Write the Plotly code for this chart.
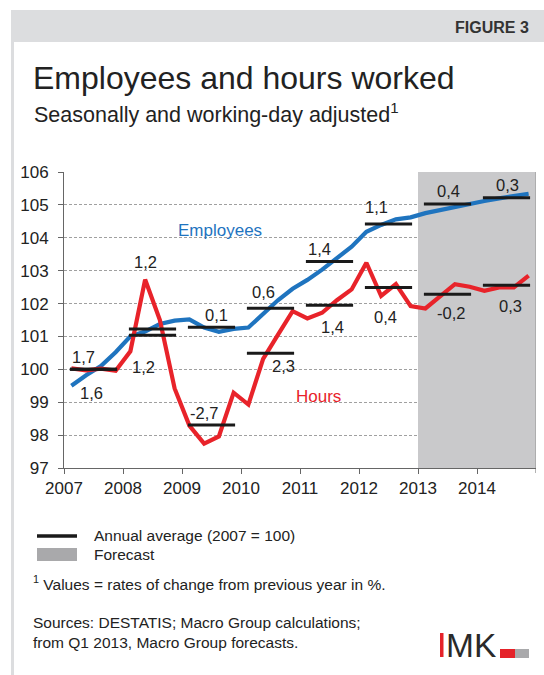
import plotly.graph_objects as go

# ---- data -------------------------------------------------------------
years = list(range(2007, 2015))

# quarterly index levels (2007 = 100), Q1 2007 .. Q4 2014
employees = [
    99.50, 99.82, 100.10, 100.52,
    101.00, 101.15, 101.38, 101.48,
    101.52, 101.27, 101.14, 101.23,
    101.27, 101.67, 102.10, 102.45,
    102.72, 103.03, 103.37, 103.73,
    104.18, 104.39, 104.56, 104.62,
    104.75, 104.85, 104.95, 105.05,
    105.12, 105.20, 105.26, 105.34,
]
hours = [
    100.03, 99.97, 100.02, 99.96,
    100.55, 102.73, 101.50, 99.42,
    98.29, 97.74, 97.96, 99.29,
    98.93, 100.32, 101.05, 101.77,
    101.55, 101.72, 102.10, 102.43,
    103.24, 102.23, 102.59, 101.92,
    101.85, 102.23, 102.59, 102.51,
    102.39, 102.49, 102.49, 102.85,
]

# annual averages (2007 = 100)
employees_avg = [100.00, 101.23, 101.28, 101.86, 103.28, 104.42, 105.03, 105.22]
hours_avg = [100.00, 101.04, 98.31, 100.49, 101.95, 102.49, 102.28, 102.56]

# rates of change from previous year in %
employees_growth = ["1,7", "1,2", "0,1", "0,6", "1,4", "1,1", "0,4", "0,3"]
hours_growth = ["1,6", "1,2", "-2,7", "2,3", "1,4", "0,4", "-0,2", "0,3"]

y_ticks = list(range(97, 107))
x_ticks = list(range(2007, 2015))
x_tick_text = [str(v) for v in x_ticks]
x_end = 2015
forecast_start, forecast_end = 2013, 2015

# ---- styling ----------------------------------------------------------
FONT = "Liberation Sans, Arial, Helvetica, sans-serif"
TEXT = "#222222"
BLUE = "#1f74bf"
RED = "#e8232a"
BLACK = "#1a1a1a"
AXIS = "#666666"

W, H = 544, 675
PL, PR, PT, PB = 64, 536, 172, 468


def px_x(px):
    return (px - PL) / (PR - PL)


def px_y(py):
    return (PB - py) / (PB - PT)


quarter_x = [y + (q - 0.5) / 4 for y in years for q in range(1, 5)]

fig = go.Figure()

fig.add_trace(go.Scatter(x=quarter_x, y=employees, mode="lines",
                         line=dict(color=BLUE, width=4.2), hoverinfo="skip"))
fig.add_trace(go.Scatter(x=quarter_x, y=hours, mode="lines",
                         line=dict(color=RED, width=4.2), hoverinfo="skip"))

# annual average bars
bx, by = [], []
for yr, e, h in zip(years, employees_avg, hours_avg):
    bx += [yr + 0.1, yr + 0.9, None, yr + 0.1, yr + 0.9, None]
    by += [e, e, None, h, h, None]
fig.add_trace(go.Scatter(x=bx, y=by, mode="lines",
                         line=dict(color=BLACK, width=3), hoverinfo="skip"))

# growth labels: pixel offsets from the centre of each annual bar
emp_dx = [-10, -7.5, 5, -7, -10, -12.5, 1, 1]
emp_dy = [12.6, 67, 12.2, 16.4, 12.1, 17.2, 13.1, 12.3]
hrs_dx = [-2, -9, -8, 13, 3, -3.5, 3, 3.5]
hrs_dy = [-23.4, -31.6, 11.7, -12.8, -21.6, -29.9, -18.7, -21.2]

annotations = []
for i, yr in enumerate(years):
    annotations.append(dict(x=yr + 0.5, y=employees_avg[i], text=employees_growth[i],
                            xshift=emp_dx[i], yshift=emp_dy[i], showarrow=False,
                            font=dict(family=FONT, size=16.5, color=TEXT)))
    annotations.append(dict(x=yr + 0.5, y=hours_avg[i], text=hours_growth[i],
                            xshift=hrs_dx[i], yshift=hrs_dy[i], showarrow=False,
                            font=dict(family=FONT, size=16.5, color=TEXT)))

# series names
annotations.append(dict(x=2009.644, y=104.23, text="Employees", showarrow=False,
                        font=dict(family=FONT, size=17, color=BLUE)))
annotations.append(dict(x=2011.31, y=99.17, text="Hours", showarrow=False,
                        font=dict(family=FONT, size=17, color=RED)))


def paper_text(px, py, text, size, color=TEXT, xanchor="left"):
    annotations.append(dict(xref="paper", yref="paper", x=px_x(px), y=px_y(py),
                            xanchor=xanchor, yanchor="middle", text=text,
                            showarrow=False, align="left",
                            font=dict(family=FONT, size=size, color=color)))


paper_text(531, 27, "<b>FIGURE 3</b>", 16, "#333333", xanchor="right")
paper_text(31, 78, "Employees and hours worked", 32)
paper_text(32, 113, "Seasonally and working-day adjusted<sup>1</sup>", 21.5)
paper_text(92, 535, "Annual average (2007 = 100)", 15.5)
paper_text(92, 554, "Forecast", 15.5)
paper_text(31, 583, "<sup>1</sup> Values = rates of change from previous year in %.", 15.5)
paper_text(31, 622, "Sources: DESTATIS; Macro Group calculations;", 15.5)
paper_text(31, 642, "from Q1 2013, Macro Group forecasts.", 15.5)
paper_text(444, 645, "MK", 33.5, "#2a2a2a")

shapes = [
    # forecast period
    dict(type="rect", xref="x", yref="y", x0=forecast_start, x1=forecast_end,
         y0=y_ticks[0], y1=y_ticks[-1], fillcolor="#c9c9cb", line=dict(width=0),
         layer="between"),
    dict(type="line", xref="x", yref="y", x0=forecast_end, x1=forecast_end,
         y0=y_ticks[0], y1=y_ticks[-1], line=dict(color="#a3a3a5", width=1.5),
         layer="between"),
    # closing tick at the end of the time axis
    dict(type="line", xref="x", yref="paper", x0=x_end, x1=x_end,
         y0=0, y1=px_y(473), line=dict(color=AXIS, width=1)),
    # frame: header band and left rule
    dict(type="rect", xref="paper", yref="paper", x0=px_x(11), x1=px_x(544),
         y0=px_y(42), y1=px_y(10), fillcolor="#dcdddf", line=dict(width=0)),
    dict(type="rect", xref="paper", yref="paper", x0=px_x(11), x1=px_x(14),
         y0=px_y(675), y1=px_y(42), fillcolor="#dcdddf", line=dict(width=0)),
    # legend keys
    dict(type="line", xref="paper", yref="paper", x0=px_x(37), x1=px_x(77),
         y0=px_y(536), y1=px_y(536), line=dict(color=BLACK, width=3.5)),
    dict(type="rect", xref="paper", yref="paper", x0=px_x(37), x1=px_x(77),
         y0=px_y(561), y1=px_y(548), fillcolor="#a9a9ab", line=dict(width=0)),
    # logo blocks
    dict(type="rect", xref="paper", yref="paper", x0=px_x(440), x1=px_x(443.5),
         y0=px_y(657), y1=px_y(633), fillcolor="#e52229", line=dict(width=0)),
    dict(type="rect", xref="paper", yref="paper", x0=px_x(500), x1=px_x(515),
         y0=px_y(658), y1=px_y(649), fillcolor="#e52229", line=dict(width=0)),
    dict(type="rect", xref="paper", yref="paper", x0=px_x(515), x1=px_x(529),
         y0=px_y(658), y1=px_y(649), fillcolor="#a9a9ab", line=dict(width=0)),
]

fig.update_layout(
    width=W, height=H, autosize=False,
    margin=dict(l=PL, r=W - PR, t=PT, b=H - PB, pad=0),
    paper_bgcolor="white", plot_bgcolor="white",
    showlegend=False,
    annotations=annotations,
    shapes=shapes,
    font=dict(family=FONT, color=TEXT),
    xaxis=dict(range=[x_ticks[0], x_end], tickvals=x_ticks, ticktext=x_tick_text,
               showgrid=False, zeroline=False, showline=True, linecolor=AXIS,
               linewidth=1, ticks="outside", ticklen=5, tickcolor=AXIS,
               tickfont=dict(family=FONT, size=17, color=TEXT)),
    yaxis=dict(range=[y_ticks[0], y_ticks[-1]], tickvals=y_ticks,
               showgrid=True, gridcolor="#a0a0a0", gridwidth=1, griddash="3px,2px",
               zeroline=False, showline=True, linecolor=AXIS, linewidth=1,
               ticks="outside", ticklen=5, tickcolor=AXIS, ticklabelstandoff=6,
               tickfont=dict(family=FONT, size=17, color=TEXT)),
)

fig.write_html("out.html")
